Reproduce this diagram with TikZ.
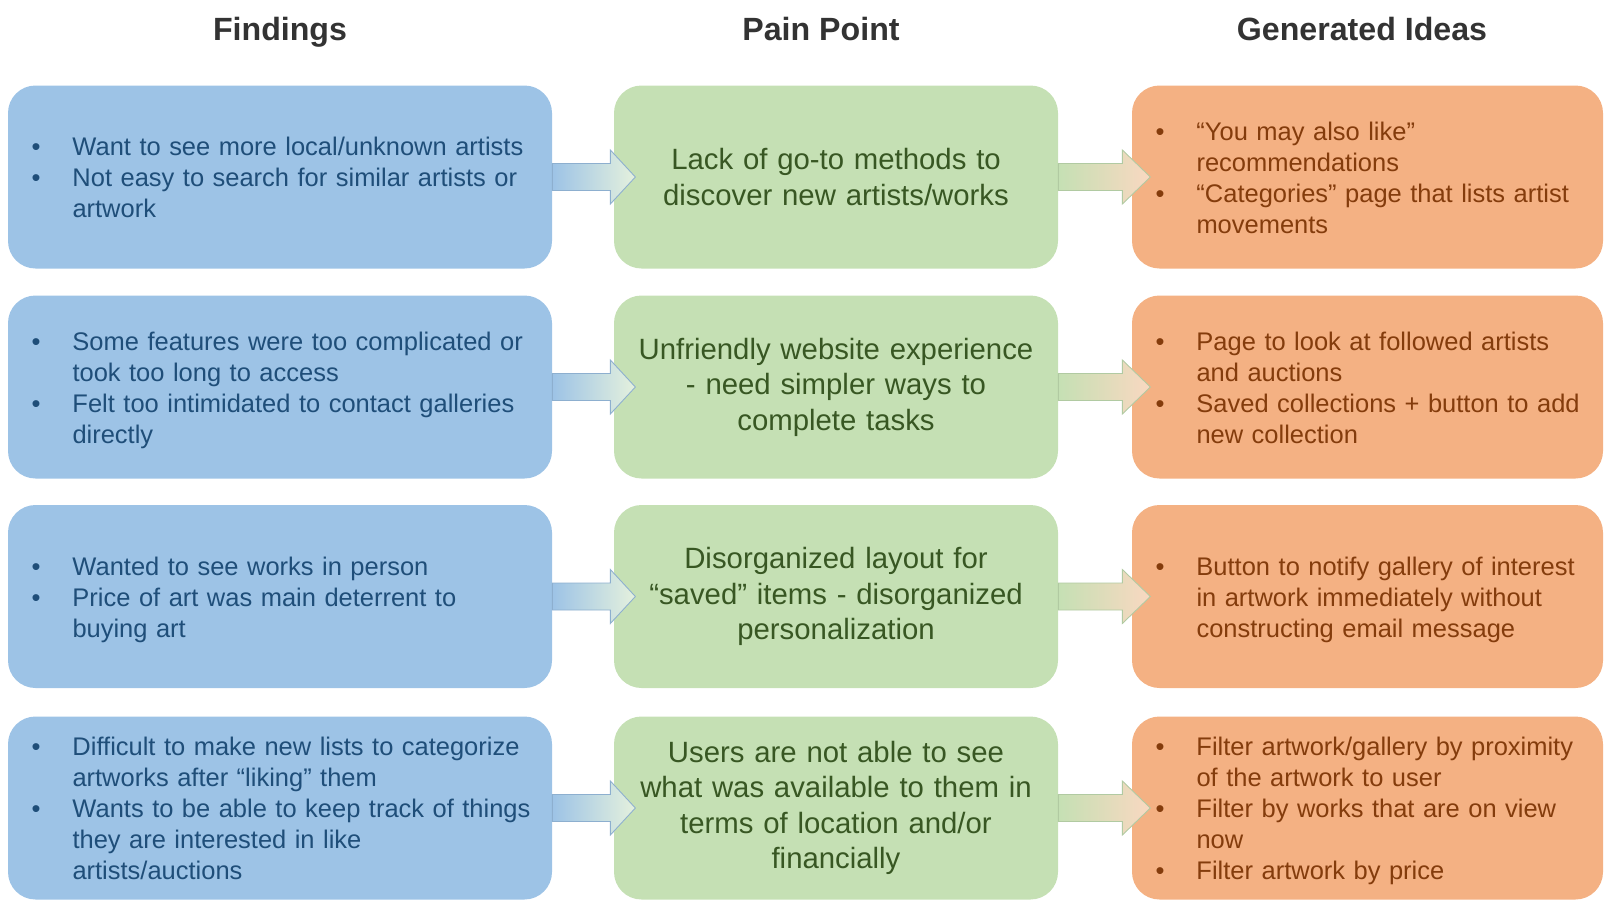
\documentclass[tikz,border=0pt]{standalone}
\usepackage{fontspec}
\setmainfont{Liberation Sans}
\usetikzlibrary{calc}
\definecolor{bluef}{HTML}{9DC3E6}
\definecolor{bluet}{HTML}{1F4E79}
\definecolor{greenf}{HTML}{C5E0B4}
\definecolor{greent}{HTML}{385723}
\definecolor{orangef}{HTML}{F4B183}
\definecolor{oranget}{HTML}{843C0C}
\definecolor{headt}{HTML}{333333}
\newcommand{\bullist}[1]{\raisebox{-.07cm}[\height][\depth]{\begin{tabular}{@{\hspace{.47cm}}p{.82cm}@{}l@{}}#1\end{tabular}}}

\begin{document}
\begin{tikzpicture}[
    finding/.style = {fill=bluef, text=bluet, rounded corners=.55cm, inner sep=0pt,
        text width=10.88cm, minimum height=3.66cm, align=left,
        font=\fontsize{14.5}{17.6}\selectfont},
    pain/.style = {fill=greenf, text=greent, rounded corners=.55cm, inner sep=0pt,
        text width=8.88cm, minimum height=3.66cm, align=center,
        font=\fontsize{16.7}{20.2}\selectfont},
    idea/.style = {fill=orangef, text=oranget, rounded corners=.55cm, inner sep=0pt,
        text width=9.42cm, minimum height=3.66cm, align=left,
        font=\fontsize{14.5}{17.6}\selectfont},
    heading/.style = {text=headt, anchor=base, font=\fontsize{18.3}{22}\selectfont\bfseries},
    topain/.style = {left color=bluef, right color=greenf!45!white, draw=bluef!90!black, line width=.5pt},
    toidea/.style = {left color=greenf, right color=orangef!50!white, draw=greenf!90!black, line width=.5pt}]
\useasboundingbox (0,0) rectangle (32.22,-18.24);

% column titles
\node[heading] (hfind) at (5.6,-.8) {Findings};
\node[heading] (hpain) at (16.42,-.8) {Pain Point};
\node[heading] (hidea) at (27.24,-.8) {Generated Ideas};

% findings
\node[finding] (find1) at (5.6,-3.54) {\bullist{\textbullet & Want to see more local/unknown artists\\
    \textbullet & Not easy to search for similar artists or\\ & artwork}};
\node[finding] (find2) at (5.6,-7.74) {\bullist{\textbullet & Some features were too complicated or\\
    & took too long to access\\ \textbullet & Felt too intimidated to contact galleries\\ & directly}};
\node[finding] (find3) at (5.6,-11.93) {\bullist{\textbullet & Wanted to see works in person\\
    \textbullet & Price of art was main deterrent to\\ & buying art}};
\node[finding] (find4) at (5.6,-16.16) {\bullist{\textbullet & Difficult to make new lists to categorize\\
    & artworks after “liking” them\\ \textbullet & Wants to be able to keep track of things\\
    & they are interested in like\\ & artists/auctions}};

% pain points
\node[pain] (pain1) at (16.72,-3.54) {Lack of go-to methods to\\ discover new artists/works};
\node[pain] (pain2) at (16.72,-7.74) {Unfriendly website experience\\ - need simpler ways to\\ complete tasks};
\node[pain] (pain3) at (16.72,-11.93) {Disorganized layout for\\ “saved” items - disorganized\\ personalization};
\node[pain] (pain4) at (16.72,-16.16) {Users are not able to see\\ what was available to them in\\ terms of location and/or\\ financially};

% ideas
\node[idea] (idea1) at (27.35,-3.54) {\bullist{\textbullet & “You may also like”\\ & recommendations\\
    \textbullet & “Categories” page that lists artist\\ & movements}};
\node[idea] (idea2) at (27.35,-7.74) {\bullist{\textbullet & Page to look at followed artists\\ & and auctions\\
    \textbullet & Saved collections + button to add\\ & new collection}};
\node[idea] (idea3) at (27.35,-11.93) {\bullist{\textbullet & Button to notify gallery of interest\\
    & in artwork immediately without\\ & constructing email message}};
\node[idea] (idea4) at (27.35,-16.16) {\bullist{\textbullet & Filter artwork/gallery by proximity\\
    & of the artwork to user\\ \textbullet & Filter by works that are on view\\ & now\\
    \textbullet & Filter artwork by price}};

% block arrows
\draw[topain] ($(find1.east)+(0,.27)$) -- ++(1.16,0) -- ++(0,.27) -- ++(.5,-.54) -- ++(-.5,-.54) -- ++(0,.27) -- ++(-1.16,0) -- cycle;
\draw[topain] ($(find2.east)+(0,.27)$) -- ++(1.16,0) -- ++(0,.27) -- ++(.5,-.54) -- ++(-.5,-.54) -- ++(0,.27) -- ++(-1.16,0) -- cycle;
\draw[topain] ($(find3.east)+(0,.27)$) -- ++(1.16,0) -- ++(0,.27) -- ++(.5,-.54) -- ++(-.5,-.54) -- ++(0,.27) -- ++(-1.16,0) -- cycle;
\draw[topain] ($(find4.east)+(0,.27)$) -- ++(1.16,0) -- ++(0,.27) -- ++(.5,-.54) -- ++(-.5,-.54) -- ++(0,.27) -- ++(-1.16,0) -- cycle;
\draw[toidea] ($(pain1.east)+(0,.27)$) -- ++(1.28,0) -- ++(0,.27) -- ++(.56,-.54) -- ++(-.56,-.54) -- ++(0,.27) -- ++(-1.28,0) -- cycle;
\draw[toidea] ($(pain2.east)+(0,.27)$) -- ++(1.28,0) -- ++(0,.27) -- ++(.56,-.54) -- ++(-.56,-.54) -- ++(0,.27) -- ++(-1.28,0) -- cycle;
\draw[toidea] ($(pain3.east)+(0,.27)$) -- ++(1.28,0) -- ++(0,.27) -- ++(.56,-.54) -- ++(-.56,-.54) -- ++(0,.27) -- ++(-1.28,0) -- cycle;
\draw[toidea] ($(pain4.east)+(0,.27)$) -- ++(1.28,0) -- ++(0,.27) -- ++(.56,-.54) -- ++(-.56,-.54) -- ++(0,.27) -- ++(-1.28,0) -- cycle;
\end{tikzpicture}
\end{document}
